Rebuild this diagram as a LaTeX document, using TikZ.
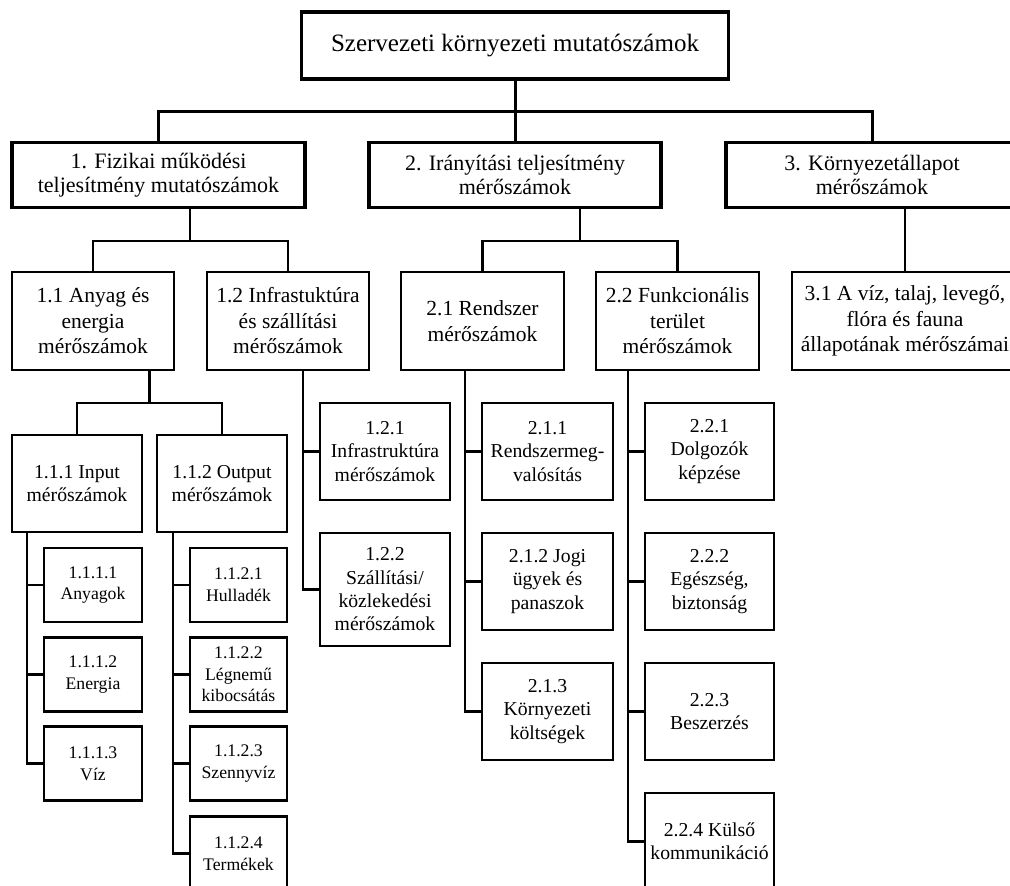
\documentclass[tikz,border=0pt]{standalone}
\usepackage{fontspec}
\setmainfont{Liberation Serif}
\begin{document}
\begin{tikzpicture}[x=1pt,y=-1pt,
  bigbox/.style={draw, line width=3.2pt, inner sep=0pt, align=center,
    font=\fontsize{22}{24}\selectfont},
  titlebox/.style={bigbox, font=\fontsize{25}{28}\selectfont},
  midbox/.style={draw, line width=2.5pt, inner sep=0pt, align=center,
    font=\fontsize{21.5}{25.5}\selectfont},
  subbox/.style={draw, line width=2.3pt, inner sep=0pt, align=center,
    font=\fontsize{19.7}{23.3}\selectfont},
  leafbox/.style={draw, line width=2.3pt, inner sep=0pt, align=center,
    font=\fontsize{17.7}{21.7}\selectfont},
  wh/.style 2 args={minimum width=#1pt, minimum height=#2pt},
  mainlink/.style={line width=3pt},
  link/.style={line width=2.2pt},
]
\useasboundingbox (0,0) rectangle (1010,886);
\clip (0,0) rectangle (1010,886);

% root
\node[titlebox, wh={427}{67}] (top) at (515,45.5) {Szervezeti környezeti mutatószámok};

% first level
\node[bigbox, wh={293}{65}] (b1) at (158.5,175) {1. Fizikai működési\\teljesítmény mutatószámok};
\node[bigbox, wh={292}{65}] (b2) at (515,175) {2. Irányítási teljesítmény\\mérőszámok};
\node[bigbox, wh={292}{65}] (b3) at (872,175) {3. Környezetállapot\\mérőszámok};

% second level
\node[midbox, wh={162}{98}] (p11) at (93,321) {1.1 Anyag és\\energia\\mérőszámok};
\node[midbox, wh={162}{98}] (p12) at (288,321) {1.2 Infrastuktúra\\és szállítási\\mérőszámok};
\node[midbox, wh={163}{98}] (p21) at (482.5,321) {2.1 Rendszer\\mérőszámok};
\node[midbox, wh={163}{98}] (p22) at (677.5,321) {2.2 Funkcionális\\terület\\mérőszámok};
\node[midbox, wh={226}{98}] (p31) at (905,321) {3.1 A víz, talaj, levegő,\\flóra és fauna\\állapotának mérőszámai};

% third level
\node[subbox, wh={130}{97}] (p111) at (77,483.5) {1.1.1 Input\\mérőszámok};
\node[subbox, wh={130}{97}] (p112) at (222,483.5) {1.1.2 Output\\mérőszámok};

\node[subbox, wh={130}{97}] (c121) at (385,451.5) {1.2.1\\Infrastruktúra\\mérőszámok};
\node[subbox, wh={130}{113}] (c122) at (385,589.5) {1.2.2\\Szállítási/\\közlekedési\\mérőszámok};

\node[subbox, wh={131}{97}] (c211) at (547.5,451.5) {2.1.1\\Rendszermeg-\\valósítás};
\node[subbox, wh={131}{97}] (c212) at (547.5,581.5) {2.1.2 Jogi\\ügyek és\\panaszok};
\node[subbox, wh={131}{97}] (c213) at (547.5,711.5) {2.1.3\\Környezeti\\költségek};

\node[subbox, wh={129}{97}] (c221) at (709.5,451.5) {2.2.1\\Dolgozók\\képzése};
\node[subbox, wh={129}{97}] (c222) at (709.5,581.5) {2.2.2\\Egészség,\\biztonság};
\node[subbox, wh={129}{97}] (c223) at (709.5,711.5) {2.2.3\\Beszerzés};
\node[subbox, wh={129}{97}] (c224) at (709.5,841.5) {2.2.4 Külső\\kommunikáció};

% fourth level
\node[leafbox, wh={98}{74}] (c1111) at (93,585) {1.1.1.1\\Anyagok};
\node[leafbox, wh={98}{74}] (c1112) at (93,674.5) {1.1.1.2\\Energia};
\node[leafbox, wh={98}{74}] (c1113) at (93,763.5) {1.1.1.3\\Víz};

\node[leafbox, wh={97}{74}] (c1121) at (238.5,585) {1.1.2.1\\Hulladék};
\node[leafbox, wh={97}{74}] (c1122) at (238.5,674.5) {1.1.2.2\\Légnemű\\kibocsátás};
\node[leafbox, wh={97}{74}] (c1123) at (238.5,763.5) {1.1.2.3\\Szennyvíz};
\node[leafbox, wh={97}{74}] (c1124) at (238.5,853.5) {1.1.2.4\\Termékek};

% junctions of the horizontal buses
\coordinate (j0) at (515,111);
\coordinate (j1) at (190,241);
\coordinate (j2) at (580,241);
\coordinate (j11) at (149.5,403);

% root to first level
\draw[mainlink] (top.south) -- (j0);
\draw[mainlink] (b1.north) |- (j0) -| (b3.north);
\draw[mainlink] (j0) -- (b2.north);

% first to second level
\draw[link] (b1.south -| j1) -- (j1);
\draw[link] (p11.north) |- (j1) -| (p12.north);
\draw[link] (b2.south -| j2) -- (j2);
\draw[link] (p21.north) |- (j2) -| (p22.north);
\draw[link] (b3.south -| p31.north) -- (p31.north);

% 1.1 to its two groups
\draw[link] (p11.south -| j11) -- (j11);
\draw[link] (p111.north) |- (j11) -| (p112.north);

% side spines, each 16pt left of its children
\coordinate (s12) at ([xshift=-16pt]c121.west);
\coordinate (s21) at ([xshift=-16pt]c211.west);
\coordinate (s22) at ([xshift=-16pt]c221.west);
\coordinate (s111) at ([xshift=-16pt]c1111.west);
\coordinate (s112) at ([xshift=-16pt]c1121.west);

\foreach \c in {c121,c122}
  \draw[link] (p12.south -| s12) |- (\c.west);
\foreach \c in {c211,c212,c213}
  \draw[link] (p21.south -| s21) |- (\c.west);
\foreach \c in {c221,c222,c223,c224}
  \draw[link] (p22.south -| s22) |- (\c.west);
\foreach \c in {c1111,c1112,c1113}
  \draw[link] (p111.south -| s111) |- (\c.west);
\foreach \c in {c1121,c1122,c1123,c1124}
  \draw[link] (p112.south -| s112) |- (\c.west);
\end{tikzpicture}
\end{document}
